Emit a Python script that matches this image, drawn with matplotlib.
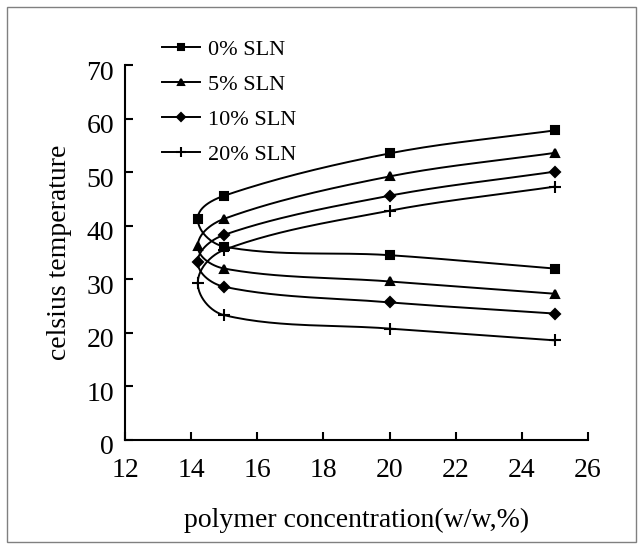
import numpy as np
import matplotlib
matplotlib.use("Agg")
import matplotlib.pyplot as plt
import matplotlib.transforms as mtrans
from matplotlib.patches import Rectangle

# ---- data ----
series_labels = ["0% SLN", "5% SLN", "10% SLN", "20% SLN"]
x_upper = [15, 20, 25]
x_lower = [15, 20, 25]
x_turn = [14.2, 14.2, 14.2, 14.2]
y_turn = [41.3, 36.2, 33.2, 29.3]
y_upper = [
    [45.6, 53.5, 57.8],
    [41.3, 49.2, 53.6],
    [38.3, 45.6, 50.1],
    [35.5, 42.8, 47.3],
]
y_lower = [
    [36.1, 34.5, 32.0],
    [32.0, 29.6, 27.3],
    [28.6, 25.7, 23.6],
    [23.3, 20.8, 18.6],
]
markers = ["s", "^", "D", "+"]
msizes = [6, 6, 5, 8]
x_ticks = [12, 14, 16, 18, 20, 22, 24, 26]
y_ticks = [0, 10, 20, 30, 40, 50, 60, 70]

SX, SY = 33.07, 5.36  # approximate pixel per data unit for smoothing


def smooth(xs, ys, n=30):
    P = np.column_stack([np.asarray(xs) * SX, np.asarray(ys) * SY])
    m = len(P)
    T = []
    for i in range(m):
        a = P[i - 1] if i > 0 else P[i]
        b = P[i + 1] if i + 1 < m else P[i]
        d = b - a
        T.append(d / (np.linalg.norm(d) + 1e-12))
    out = []
    for i in range(m - 1):
        p1, p2 = P[i], P[i + 1]
        L = np.linalg.norm(p2 - p1)
        c1 = p1 + T[i] * L / 3.0
        c2 = p2 - T[i + 1] * L / 3.0
        t = np.linspace(0, 1, n)[:, None]
        seg = ((1 - t) ** 3) * p1 + 3 * ((1 - t) ** 2) * t * c1 + 3 * (1 - t) * t ** 2 * c2 + t ** 3 * p2
        out.append(seg if i == 0 else seg[1:])
    S = np.vstack(out)
    return S[:, 0] / SX, S[:, 1] / SY


fig = plt.figure(figsize=(6.43, 5.49), dpi=100)
fig.patches.append(Rectangle((7 / 643, 7 / 549), 629 / 643, 535 / 549, transform=fig.transFigure,
                             fill=False, edgecolor="#808080", linewidth=1))
ax = fig.add_axes([125 / 643, 1 - 440 / 549, 463 / 643, 375 / 549])

serif = ["Liberation Serif", "DejaVu Serif"]
handles = []
for i, lab in enumerate(series_labels):
    xs = list(x_lower[::-1]) + [x_turn[i]] + list(x_upper)
    ys = list(y_lower[i][::-1]) + [y_turn[i]] + list(y_upper[i])
    cx, cy = smooth(xs, ys)
    ax.plot(cx, cy, color="black", linewidth=1.4)
    ax.plot(xs, ys, linestyle="none", marker=markers[i], markersize=msizes[i],
            color="black", markeredgewidth=1.5)
    handles.append(plt.Line2D([], [], color="black", linewidth=1.4, marker=markers[i],
                              markersize=msizes[i] - 1, markeredgewidth=1.5))

ax.set_xlim(12, 26)
ax.set_ylim(0, 70)
ax.set_xticks(x_ticks)
ax.set_yticks(y_ticks)
for s in ["top", "right"]:
    ax.spines[s].set_visible(False)
for s in ["left", "bottom"]:
    ax.spines[s].set_linewidth(1.5)
ax.tick_params(direction="in", length=6, width=1.5, labelsize=20)
ax.tick_params(axis="x", pad=13)
ax.tick_params(axis="y", pad=8)
off = mtrans.ScaledTranslation(0, -5 / 100, fig.dpi_scale_trans)
for lbl in ax.get_xticklabels() + ax.get_yticklabels():
    lbl.set_family(serif)
for lbl in ax.get_yticklabels():
    lbl.set_transform(lbl.get_transform() + off)
ax.set_xlabel("polymer concentration(w/w,%)", fontsize=20, family=serif, labelpad=18)
ax.set_ylabel("celsius temperature", fontsize=20, family=serif, labelpad=10)

leg = fig.legend(handles, series_labels, loc="upper left",
                 bbox_to_anchor=(162 / 643, 1 - 39 / 549), frameon=False,
                 prop={"family": serif, "size": 16}, handlelength=1.7,
                 labelspacing=0.66, handletextpad=0.35, borderpad=0, borderaxespad=0)

fig.savefig("out.png", dpi=100)
